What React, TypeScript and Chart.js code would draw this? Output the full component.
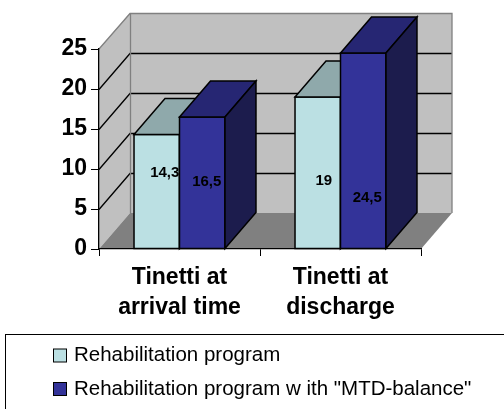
import React, { useEffect, useRef } from "react";
import { Chart, registerables } from "chart.js";

Chart.register(...registerables);

// ---- data ----
const categories: string[][] = [
  ["Tinetti at", "arrival time"],
  ["Tinetti at", "discharge"],
];
const seriesNames: string[] = [
  "Rehabilitation program",
  'Rehabilitation program w ith "MTD-balance"',
];
const rehabValues: number[] = [14.3, 19];
const mtdValues: number[] = [16.5, 24.5];
const yMin = 0;
const yMax = 25;
const yStep = 5;

// ---- styles ----
const FONT = "'Liberation Sans', Arial, sans-serif";
const FRONT = ["#BBE0E3", "#333399"];
const TOP = ["#8FA9AB", "#262673"];
const SIDE = ["#7E9698", "#1C1C4D"];
const WALL = "#C0C0C0";
const FLOOR = "#808080";
const EDGE = "#808080";
const DX = 31;
const DY = 36;
// pixel nudges for value labels [dataset][category] relative to front-face centre
const LABEL_NUDGE = [
  [
    [8, -19],
    [6, 8.5],
  ],
  [
    [4.5, -1],
    [4, 47],
  ],
];

const fmt = (v: number) => String(v).replace(".", ",");

const threeD = {
  id: "threeD",
  beforeDraw(chart: any) {
    const { ctx, chartArea } = chart;
    const { left, right, top, bottom } = chartArea;
    const ys = chart.scales.y;
    ctx.save();
    // left wall
    ctx.fillStyle = WALL;
    ctx.beginPath();
    ctx.moveTo(left, top);
    ctx.lineTo(left + DX, top - DY);
    ctx.lineTo(left + DX, bottom - DY);
    ctx.lineTo(left, bottom);
    ctx.closePath();
    ctx.fill();
    // back wall
    ctx.fillRect(left + DX, top - DY, right - left, bottom - top);
    // floor
    ctx.fillStyle = FLOOR;
    ctx.beginPath();
    ctx.moveTo(left, bottom);
    ctx.lineTo(right, bottom);
    ctx.lineTo(right + DX, bottom - DY);
    ctx.lineTo(left + DX, bottom - DY);
    ctx.closePath();
    ctx.fill();
    // grid lines
    ctx.strokeStyle = "#000";
    ctx.lineWidth = 1.3;
    for (let v = yMin + yStep; v < yMax; v += yStep) {
      const y = Math.round(ys.getPixelForValue(v)) + 0.5;
      ctx.beginPath();
      ctx.moveTo(left, y);
      ctx.lineTo(left + DX, y - DY);
      ctx.lineTo(right + DX, y - DY);
      ctx.stroke();
    }
    // wall edges
    ctx.strokeStyle = EDGE;
    ctx.lineWidth = 1.3;
    ctx.beginPath();
    ctx.moveTo(left, top);
    ctx.lineTo(left + DX, top - DY + 0.5);
    ctx.lineTo(right + DX, top - DY + 0.5);
    ctx.lineTo(right + DX, bottom - DY);
    ctx.moveTo(left + DX + 0.5, top - DY);
    ctx.lineTo(left + DX + 0.5, bottom - DY);
    ctx.stroke();
    ctx.restore();
  },
  afterDatasetsDraw(chart: any) {
    const { ctx } = chart;
    ctx.save();
    ctx.strokeStyle = "#000";
    ctx.lineWidth = 1.5;
    ctx.lineJoin = "miter";
    const nCat = chart.data.labels.length;
    for (let i = 0; i < nCat; i++) {
      chart.data.datasets.forEach((_d: any, ds: number) => {
        const el = chart.getDatasetMeta(ds).data[i];
        if (!el) return;
        const { x, y, base, width } = el.getProps(["x", "y", "base", "width"], true);
        const l = x - width / 2;
        const r = x + width / 2;
        // front
        ctx.fillStyle = FRONT[ds];
        ctx.beginPath();
        ctx.rect(l, y, width, base - y);
        ctx.fill();
        ctx.stroke();
        // top
        ctx.fillStyle = TOP[ds];
        ctx.beginPath();
        ctx.moveTo(l, y);
        ctx.lineTo(l + DX, y - DY);
        ctx.lineTo(r + DX, y - DY);
        ctx.lineTo(r, y);
        ctx.closePath();
        ctx.fill();
        ctx.stroke();
        // side
        ctx.fillStyle = SIDE[ds];
        ctx.beginPath();
        ctx.moveTo(r, y);
        ctx.lineTo(r + DX, y - DY);
        ctx.lineTo(r + DX, base - DY);
        ctx.lineTo(r, base);
        ctx.closePath();
        ctx.fill();
        ctx.stroke();
      });
    }
    ctx.restore();
  },
  afterDraw(chart: any) {
    const { ctx } = chart;
    ctx.save();
    // value labels
    ctx.fillStyle = "#000";
    ctx.font = `bold 15px ${FONT}`;
    ctx.textAlign = "center";
    ctx.textBaseline = "middle";
    chart.data.datasets.forEach((d: any, ds: number) => {
      const meta = chart.getDatasetMeta(ds);
      meta.data.forEach((el: any, i: number) => {
        const { x, y, base } = el.getProps(["x", "y", "base"], true);
        const n = LABEL_NUDGE[ds][i];
        ctx.fillText(fmt(d.data[i]), x + n[0], (y + base) / 2 + n[1]);
      });
    });
    // legend
    ctx.strokeStyle = "#000";
    ctx.lineWidth = 1;
    ctx.strokeRect(5.5, 334.5, 520, 100);
    ctx.font = `20.5px ${FONT}`;
    ctx.textAlign = "left";
    const rows = [355.5, 389];
    seriesNames.forEach((name, i) => {
      const cy = rows[i];
      ctx.fillStyle = FRONT[i];
      ctx.fillRect(53.5, cy - 6.5, 13, 13);
      ctx.strokeRect(53.5, cy - 6.5, 13, 13);
      ctx.fillStyle = "#000";
      ctx.fillText(name, 74, cy);
    });
    ctx.restore();
  },
};

export default function App() {
  const ref = useRef<HTMLCanvasElement | null>(null);
  useEffect(() => {
    if (!ref.current) return;
    const chart = new Chart(ref.current, {
      type: "bar",
      data: {
        labels: categories as any,
        datasets: [
          {
            label: seriesNames[0],
            data: rehabValues,
            backgroundColor: FRONT[0],
            borderColor: "#000",
            borderWidth: 1.5,
            borderSkipped: false,
          },
          {
            label: seriesNames[1],
            data: mtdValues,
            backgroundColor: FRONT[1],
            borderColor: "#000",
            borderWidth: 1.5,
            borderSkipped: false,
          },
        ],
      },
      options: {
        animation: false,
        responsive: false,
        maintainAspectRatio: false,
        events: [],
        layout: { padding: { left: 0, top: 49, right: 83, bottom: 85 } },
        datasets: { bar: { categoryPercentage: 0.565, barPercentage: 1 } },
        plugins: { legend: { display: false }, tooltip: { enabled: false } },
        scales: {
          x: {
            offset: true,
            ticks: {
              color: "#000",
              padding: 7,
              maxRotation: 0,
              font: { family: FONT, size: 23, weight: "bold", lineHeight: 1.3 },
            },
            grid: { drawOnChartArea: false, drawTicks: true, tickLength: 7, color: "#000", offset: true },
            border: { color: "#000", width: 1.3 },
            afterFit: (s: any) => {
              s.height = 75;
            },
          },
          y: {
            min: yMin,
            max: yMax,
            ticks: {
              stepSize: yStep,
              color: "#000",
              padding: 4,
              font: { family: FONT, size: 23, weight: "bold" },
            },
            grid: { drawOnChartArea: false, drawTicks: true, tickLength: 8, color: "#000" },
            border: { color: "#000", width: 1.3 },
            afterFit: (s: any) => {
              s.width = 99;
            },
          },
        },
      } as any,
      plugins: [threeD],
    });
    return () => chart.destroy();
  }, []);
  return (
    <div style={{ position: "absolute", left: 0, top: 0, width: 504, height: 409, background: "#fff" }}>
      <canvas ref={ref} width={504} height={409} style={{ display: "block", width: 504, height: 409 }} />
    </div>
  );
}
